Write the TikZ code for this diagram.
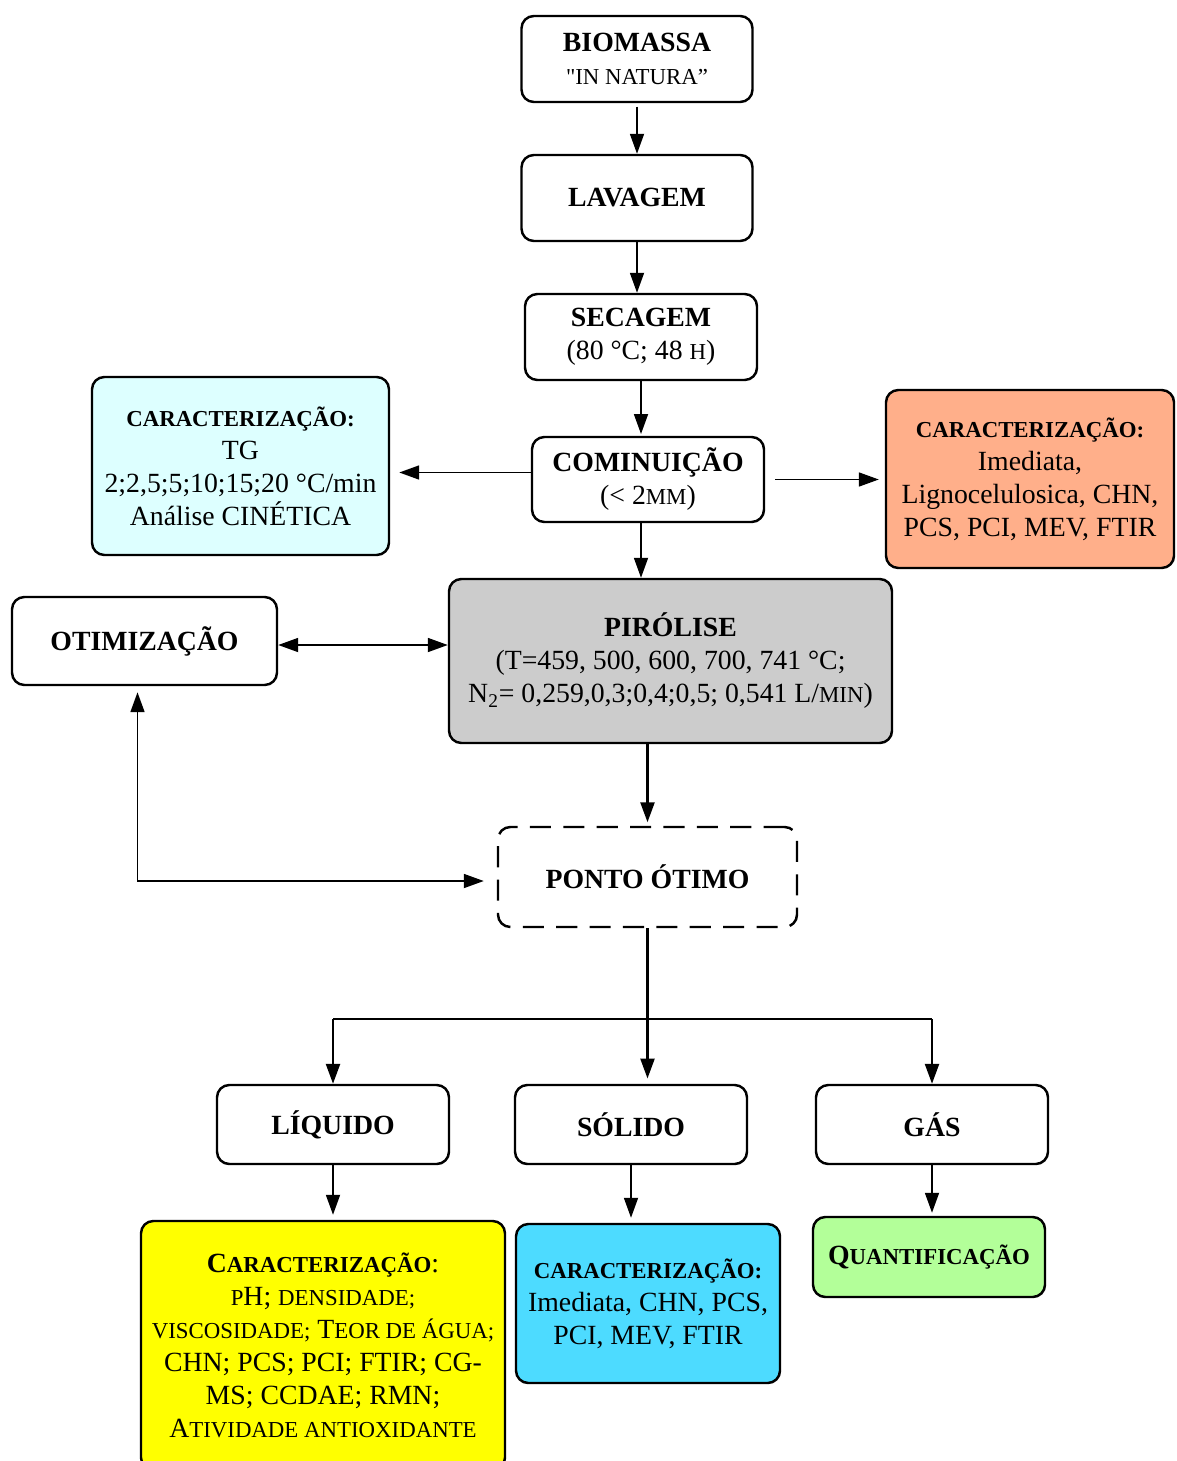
\documentclass[tikz,border=0pt]{standalone}
\usepackage{fontspec}
\setmainfont{Liberation Serif}
\newfontfamily\plainserif{Liberation Serif}
\usetikzlibrary{arrows.meta,calc}
\definecolor{cCiano}{HTML}{DDFFFF}
\definecolor{cSalmao}{HTML}{FFAF8A}
\definecolor{cCinza}{HTML}{CCCCCC}
\definecolor{cAmarelo}{HTML}{FFFF00}
\definecolor{cAzul}{HTML}{4DDBFF}
\definecolor{cVerde}{HTML}{B3FF99}
\newcommand{\fsc}[1]{{\fontsize{13}{18.8}\selectfont #1}}
\tikzset{
  nd/.style   = {draw=black, fill=white, line width=1.4pt, rounded corners=7pt,
                 align=center, font=\fontsize{15.8}{18.8}\selectfont, inner sep=3pt},
  ndd/.style  = {nd, dash pattern=on 12pt off 7pt},
  ar/.style   = {-{Triangle[length=0.4cm,width=0.28cm]}, line width=1pt},
  arh/.style  = {ar, line width=1.4pt},
  arb/.style  = {{Triangle[length=0.4cm,width=0.28cm]}-{Triangle[length=0.4cm,width=0.28cm]},
                 line width=1pt},
}

\begin{document}
\begin{tikzpicture}
  \useasboundingbox (0,0) rectangle (23.52,-29.22);
  % preparo da biomassa
  \node[nd, minimum width=4.62cm, minimum height=1.72cm] (bio) at (12.74,-1.18)
    {\textbf{BIOMASSA}\\ \fsc{{\plainserif "}IN NATURA”}};
  \node[nd, minimum width=4.62cm, minimum height=1.72cm] (lav) at (12.74,-3.96)
    {\textbf{LAVAGEM}};
  \node[nd, minimum width=4.64cm, minimum height=1.72cm] (sec) at (12.82,-6.74)
    {\textbf{SECAGEM}\\ (80 °C; 48 \fsc{H})};
  \node[nd, minimum width=4.64cm, minimum height=1.70cm] (com) at (12.96,-9.59)
    {\textbf{COMINUIÇÃO}\\ (< 2\fsc{MM})};
  % caracterizacao da biomassa
  \node[nd, fill=cCiano, minimum width=5.94cm, minimum height=3.56cm] (carL) at (4.81,-9.32)
    {\textbf{\fsc{CARACTERIZAÇÃO:}}\\ TG\\ 2;2,5;5;10;15;20 °C/min\\ Análise CINÉTICA};
  \node[nd, fill=cSalmao, minimum width=5.76cm, minimum height=3.56cm] (carR) at (20.6,-9.58)
    {\textbf{\fsc{CARACTERIZAÇÃO:}}\\ Imediata,\\ Lignocelulosica, CHN,\\ PCS, PCI, MEV, FTIR};
  % pirolise
  \node[nd, fill=cCinza, minimum width=8.86cm, minimum height=3.28cm] (pir) at (13.41,-13.22)
    {\textbf{PIRÓLISE}\\ (T=459, 500, 600, 700, 741 °C;\\
     N\textsubscript{2}= 0,259,0,3;0,4;0,5; 0,541 L/\fsc{MIN})};
  \node[nd, minimum width=5.3cm, minimum height=1.76cm] (otim) at (2.89,-12.82)
    {\textbf{OTIMIZAÇÃO}};
  \node[ndd, minimum width=5.98cm, minimum height=2.0cm] (pto) at (12.95,-17.54)
    {\textbf{PONTO ÓTIMO}};
  % produtos
  \node[nd, minimum width=4.64cm, minimum height=1.58cm] (liq) at (6.66,-22.49)
    {\textbf{LÍQUIDO}};
  \node[nd, minimum width=4.64cm, minimum height=1.58cm] (sol) at (12.62,-22.49)
    {\textbf{SÓLIDO}};
  \node[nd, minimum width=4.64cm, minimum height=1.58cm] (gas) at (18.64,-22.49)
    {\textbf{GÁS}};
  \node[nd, fill=cAmarelo, minimum width=7.28cm, minimum height=4.98cm] (carLiq) at (6.46,-26.91)
    {\textbf{C\fsc{ARACTERIZAÇÃO}}:\\ \fsc{P}H; \fsc{DENSIDADE;}\\
     \fsc{VISCOSIDADE;} T\fsc{EOR DE ÁGUA;}\\ CHN; PCS; PCI; FTIR; CG-\\
     MS; CCDAE; RMN;\\ A\fsc{TIVIDADE ANTIOXIDANTE}};
  \node[nd, fill=cAzul, minimum width=5.28cm, minimum height=3.18cm] (carSol) at (12.96,-26.07)
    {\textbf{\fsc{CARACTERIZAÇÃO:}}\\ Imediata, CHN, PCS,\\ PCI, MEV, FTIR};
  \node[nd, fill=cVerde, minimum width=4.64cm, minimum height=1.6cm] (quant) at (18.58,-25.14)
    {\textbf{Q\fsc{UANTIFICAÇÃO}}};
  % setas
  \draw[ar, shorten <=2pt] (bio) -- (lav);
  \draw[ar] (lav) -- (lav |- sec.north);
  \draw[ar, shorten >=1pt] (sec) -- (sec |- com.north);
  \draw[ar] (sec |- com.south) -- (sec |- pir.north);
  \draw[ar, shorten >=0.18cm] ($(com.west)+(0,0.14)$) -- ($(carL.east |- com.west)+(0,0.14)$);
  \draw[ar, shorten <=0.2cm, shorten >=0.12cm] (com.east) -- (carR.west |- com.east);
  \draw[arb] ($(otim.east)+(0,-0.08)$) -- ($(pir.west |- otim.east)+(0,-0.08)$);
  \draw[arh, shorten >=2pt] (pto |- pir.south) -- (pto.north);
  \draw[arb, shorten <=0.12cm, shorten >=0.26cm] ($(otim.south)+(-0.14,0)$) |- ($(pto.west)+(0,-0.08)$);
  \coordinate (br) at ($(pto.south)+(0,-1.82)$);
  \draw[line width=1.4pt] (liq |- br) -- (gas |- br);
  \draw[arh, shorten >=3pt] (pto.south) -- (pto |- sol.north);
  \draw[arh] (liq |- br) -- (liq.north);
  \draw[arh] (gas |- br) -- (gas.north);
  \draw[ar, shorten >=0.1cm] (liq) -- (liq |- carLiq.north);
  \draw[ar, shorten >=0.1cm] (sol) -- (sol |- carSol.north);
  \draw[ar, shorten >=0.06cm] (gas) -- (gas |- quant.north);
\end{tikzpicture}
\end{document}
